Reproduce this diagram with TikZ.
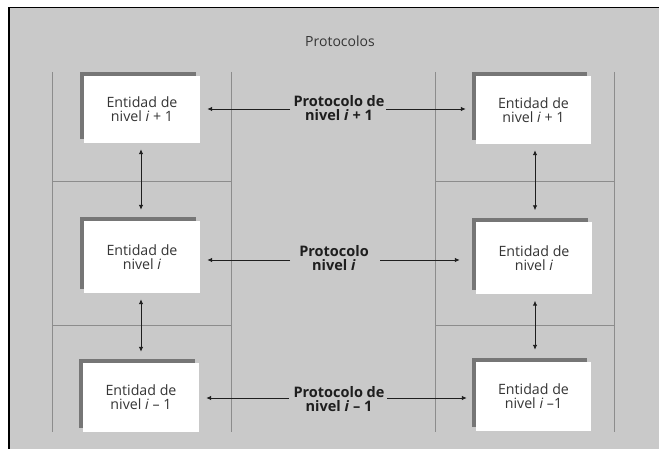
\documentclass[tikz,border=0pt]{standalone}
\usepackage{fontspec}
\setmainfont{Open Sans}
\usetikzlibrary{arrows.meta,shadows}
\definecolor{panel}{RGB}{201,201,201}
\definecolor{rule}{RGB}{140,140,140}
\definecolor{shade}{RGB}{118,118,118}
\definecolor{ink}{RGB}{30,30,30}
\begin{document}
\begin{tikzpicture}[x=1pt,y=-1pt,
  entity/.style={fill=white, draw=none, align=center, inner sep=0pt,
    font=\fontsize{14.2}{14}\selectfont, text=ink!90,
    drop shadow={shadow xshift=-4pt, shadow yshift=4pt, opacity=1, fill=shade}},
  protolabel/.style={align=center, inner sep=1pt, font=\fontsize{14.5}{14}\selectfont\bfseries, text=ink},
  link/.style={draw=ink, line width=0.9pt, -{Latex[length=5pt,width=4.5pt]}},
  bilink/.style={draw=ink, line width=0.9pt, {Latex[length=5pt,width=4.5pt]}-{Latex[length=5pt,width=4.5pt]}},
  column/.style={draw=rule, line width=0.9pt}]
% page and panel
\useasboundingbox (0,0) rectangle (659,449);
\fill[white] (0,0) rectangle (659,449);
\fill[panel] (8,7) rectangle (659,449);
\draw[black, line width=1.6pt] (8.8,449) -- (8.8,7.5) -- (659,7.5);

% title
\node[font=\fontsize{14}{14}\selectfont, text=ink!90] (title) at (340,41) {Protocolos};

% column frames with layer dividers
\foreach \xa/\xb in {52/231, 435/614}{
  \draw[column] (\xa,72) -- (\xa,432);
  \draw[column] (\xb,72) -- (\xb,432);
  \draw[column] (\xa,181) -- (\xb,181);
  \draw[column] (\xa,325) -- (\xb,325);
}

% entities
\node[entity, minimum width=116pt, minimum height=67pt] (L1) at (142,109.5) {Entidad de\\nivel \textit{i} + 1};
\node[entity, minimum width=116pt, minimum height=72pt] (L2) at (142,257) {Entidad de\\nivel \textit{i}};
\node[entity, minimum width=116pt, minimum height=69pt] (L3) at (141,397.5) {Entidad de\\nivel \textit{i} – 1};
\node[entity, minimum width=115pt, minimum height=68pt] (R1) at (533.5,110) {Entidad de\\nivel \textit{i} + 1};
\node[entity, minimum width=116pt, minimum height=72pt] (R2) at (534,258.5) {Entidad de\\nivel \textit{i}};
\node[entity, minimum width=115pt, minimum height=69pt] (R3) at (533.5,396.5) {Entidad de\\nivel \textit{i} –1};

% protocol labels
\node[protolabel] (P1) at (339,108.5) {Protocolo de\\nivel \textit{i} + 1};
\node[protolabel] (P2) at (334,258.5) {Protocolo\\nivel \textit{i}};
\node[protolabel] (P3) at (339,399.5) {Protocolo de\\nivel \textit{i} – 1};

% peer-to-peer arrows
\coordinate (P1w) at (290,109);  \coordinate (P1e) at (386,109);
\coordinate (P2w) at (290,260);  \coordinate (P2e) at (380,260);
\coordinate (P3w) at (289,398);  \coordinate (P3e) at (387,398);
\draw[link, shorten >=7pt] (P1w) -- (P1w -| L1.east);
\draw[link, shorten >=10pt] (P1e) -- (P1e -| R1.west);
\draw[link, shorten >=7pt] (P2w) -- (P2w -| L2.east);
\draw[link, shorten >=16pt] (P2e) -- (P2e -| R2.west);
\draw[link, shorten >=7pt] (P3w) -- (P3w -| L3.east);
\draw[link, shorten >=9pt] (P3e) -- (P3e -| R3.west);

% interface arrows between layers
\draw[bilink, shorten <=6pt, shorten >=11pt] (L1.south -| 141,0) -- (L2.north -| 141,0);
\draw[bilink, shorten <=6pt, shorten >=11pt] (L2.south -| 141,0) -- (L3.north -| 141,0);
\draw[bilink, shorten <=6pt, shorten >=12pt] (R1.south -| 535,0) -- (R2.north -| 535,0);
\draw[bilink, shorten <=6pt, shorten >=12pt] (R2.south -| 535,0) -- (R3.north -| 535,0);
\end{tikzpicture}
\end{document}
